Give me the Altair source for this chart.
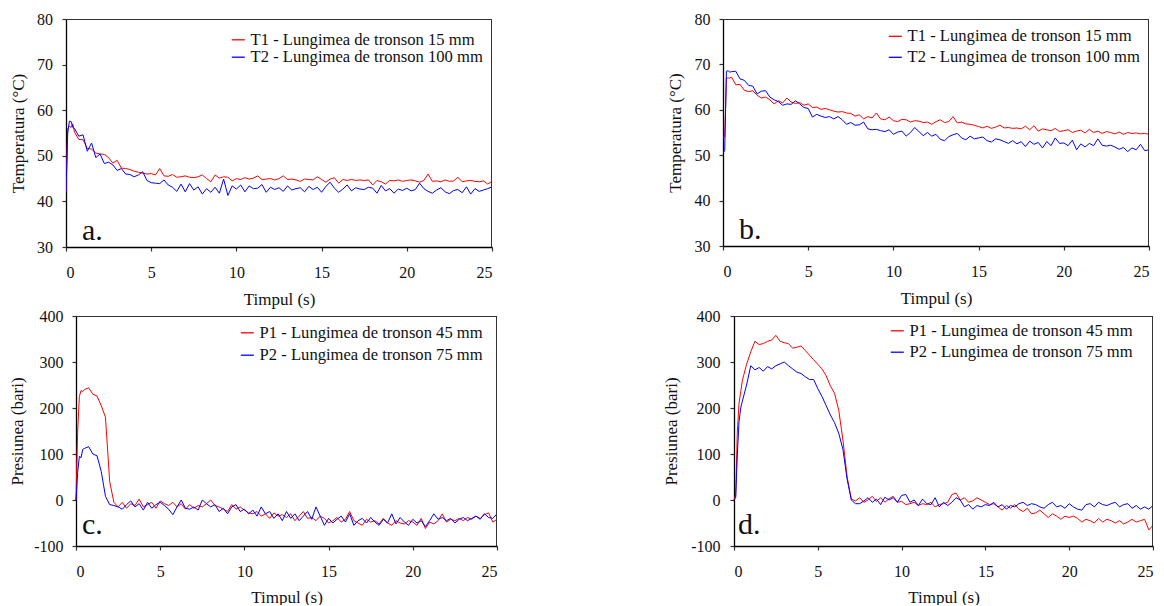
import altair as alt
import pandas as pd

# shared time grid (s)
TIME = [0, 0.1, 0.2, 0.3, 0.4, 0.5,
        0.75, 1.0, 1.25, 1.5, 1.75, 2.0, 2.25, 2.5,
        2.75, 3.0, 3.25, 3.5, 3.75, 4.0, 4.25, 4.5,
        4.75, 5.0, 5.25, 5.5, 5.75, 6.0, 6.25, 6.5,
        6.75, 7.0, 7.25, 7.5, 7.75, 8.0, 8.25, 8.5,
        8.75, 9.0, 9.25, 9.5, 9.75, 10.0, 10.25, 10.5,
        10.75, 11.0, 11.25, 11.5, 11.75, 12.0, 12.25, 12.5,
        12.75, 13.0, 13.25, 13.5, 13.75, 14.0, 14.25, 14.5,
        14.75, 15.0, 15.25, 15.5, 15.75, 16.0, 16.25, 16.5,
        16.75, 17.0, 17.25, 17.5, 17.75, 18.0, 18.25, 18.5,
        18.75, 19.0, 19.25, 19.5, 19.75, 20.0, 20.25, 20.5,
        20.75, 21.0, 21.25, 21.5, 21.75, 22.0, 22.25, 22.5,
        22.75, 23.0, 23.25, 23.5, 23.75, 24.0, 24.25, 24.5,
        24.75, 25.0]

T1_A = [42, 56, 56.5, 56.2, 57, 55.2,
        53.6, 53.5, 51.6, 51.5, 50.6, 50.4, 50.3, 49.6,
        48.4, 49.0, 47.3, 47.2, 47.0, 46.6, 46.4, 46.2,
        46.0, 46.1, 45.8, 47.2, 45.6, 45.5, 45.9, 45.3,
        45.4, 45.6, 45.3, 45.2, 45.4, 45.8, 45.0, 44.3,
        45.8, 45.1, 45.4, 45.3, 44.5, 45.0, 44.8, 45.2,
        44.9, 45.1, 45.6, 44.8, 44.9, 45.0, 44.7, 45.0,
        45.6, 44.8, 44.9, 44.7, 44.4, 44.9, 44.8, 44.7,
        45.4, 44.8, 44.2, 44.9, 45.2, 44.0, 44.8, 44.6,
        44.8, 44.6, 44.7, 44.6, 44.7, 43.6, 44.6, 44.3,
        43.8, 44.6, 44.5, 44.7, 44.4, 44.6, 44.7, 44.5,
        44.2, 44.6, 46.0, 44.4, 44.5, 44.3, 44.7, 44.4,
        44.5, 45.3, 44.3, 44.5, 44.6, 44.4, 44.3, 44.5,
        43.8, 44.4]
T2_A = [42, 55, 57.6, 57.5, 56.2, 56.0,
        54.3, 54.6, 51.0, 52.8, 49.6, 50.4, 48.3, 48.6,
        48.0, 46.8, 47.2, 46.0, 45.9, 45.4, 45.8, 46.5,
        44.6, 44.1, 44.0, 43.9, 44.7, 43.6, 43.1, 42.2,
        43.8, 42.1, 43.9, 42.5, 43.2, 41.6, 42.8, 42.0,
        43.1, 41.8, 44.9, 41.3, 43.4, 42.7, 43.6, 42.1,
        43.4, 42.8, 42.9, 43.7, 42.0, 43.1, 42.6, 43.0,
        42.2, 43.4, 42.5, 42.8, 43.0, 42.1, 43.3, 42.6,
        43.1, 42.0, 43.3, 44.2, 42.9, 42.0, 42.7, 43.6,
        42.3, 43.0, 42.7, 42.6, 43.1, 42.9, 41.8, 43.5,
        42.3, 42.8, 41.8, 42.7, 42.4, 42.9, 42.3, 42.6,
        44.0, 42.8, 42.2, 41.8, 42.5, 43.0, 42.1, 41.7,
        42.4, 42.6, 41.9, 43.2, 41.6, 42.8, 42.2, 42.5,
        42.8, 43.2]

T1_B = [54, 54, 67, 67, 67, 67.2,
        65.5, 65.6, 64.3, 64.0, 64.2, 63.2, 62.6, 62.8,
        62.2, 61.3, 62.0, 61.5, 62.6, 61.7, 61.4, 61.6,
        61.0, 61.3, 60.5, 60.6, 60.1, 60.3, 60.0, 59.7,
        59.5, 59.6, 59.3, 59.2, 58.6, 58.9, 58.0, 58.5,
        58.2, 59.3, 58.0, 57.8, 58.4, 57.6, 57.4, 57.9,
        57.8, 57.3, 57.6, 57.5, 57.2, 57.3, 56.8, 57.4,
        57.8, 57.2, 57.4, 58.5, 57.1, 57.3, 56.9, 56.8,
        56.6, 56.3, 56.0, 56.4, 55.9, 56.2, 56.6, 56.0,
        56.1, 55.9, 56.0, 55.8, 56.4, 55.6, 56.5, 55.3,
        55.8, 55.6, 55.4, 55.9, 55.2, 55.4, 55.6, 55.0,
        55.3, 55.5, 54.9, 55.7, 55.0, 55.3, 54.8, 55.2,
        55.0, 54.7, 55.1, 54.6, 55.0, 54.8, 54.9, 54.7,
        54.8, 54.6]
T2_B = [50.5, 51, 68.5, 68.6, 68.3, 68.4,
        68.5, 66.8, 66.5, 65.4, 65.2, 63.5, 64.1, 64.2,
        62.8, 62.2, 61.8, 61.0, 61.3, 61.2, 62.0, 61.3,
        60.5, 60.3, 58.4, 59.0, 58.6, 58.3, 58.5, 58.0,
        58.5, 57.8, 56.8, 57.2, 56.6, 56.7, 57.3, 55.8,
        55.6, 55.7, 55.4, 55.2, 55.6, 54.6, 55.1, 55.3,
        54.2, 55.0, 56.1, 55.2, 54.3, 55.0, 54.2, 54.6,
        53.5, 53.2, 54.1, 54.5, 54.8, 53.8, 53.4, 54.2,
        53.6, 53.8, 54.0, 53.2, 52.9, 53.6, 53.4, 53.0,
        52.6, 53.2, 52.5, 53.0, 51.9, 53.1, 52.4, 52.8,
        51.6, 53.0, 52.1, 53.8, 52.6, 52.7, 52.1, 53.3,
        51.2, 52.5, 51.8, 52.6, 52.1, 53.6, 52.2, 52.0,
        52.2, 51.8, 51.3, 51.7, 50.8, 51.6, 51.2, 52.4,
        51.0, 51.2]

P1_C = [0, 150, 225, 238, 236, 240,
        244, 230, 226, 205, 180, 40, -5, -15,
        -5, -18, -8, -12, 2, -15, -10, -5,
        -18, -2, -8, -12, -5, -15, -8, -20,
        -10, -18, -12, -15, -8, 0, -12, -15,
        -20, -25, -10, -20, -15, -22, -28, -30,
        -25, -35, -30, -40, -28, -35, -32, -38,
        -30, -45, -35, -25, -40, -38, -45, -35,
        -40, -50, -45, -38, -48, -42, -25, -45,
        -50, -55, -42, -48, -45, -52, -40, -50,
        -55, -45, -50, -52, -45, -48, -55, -40,
        -62, -48, -52, -45, -30, -48, -42, -45,
        -40, -45, -38, -42, -35, -40, -32, -28,
        -48, -42]
P2_C = [0, 60, 95, 92, 110, 112,
        116, 100, 96, 62, 8, -10, -12, -15,
        -20, -10, -2, -15, -8, -22, -5, -18,
        -10, -5, -12, -20, -32, -15, 0, -18,
        -20, -15, -22, 0, -8, -15, -10, -25,
        -18, -30, -15, -10, -25, -20, -30, -22,
        -35, -15, -30, -25, -40, -30, -45, -25,
        -40, -30, -45, -35, -25, -42, -15, -35,
        -55, -40, -50, -42, -35, -48, -30, -55,
        -45, -40, -50, -38, -48, -55, -42, -50,
        -30, -52, -38, -48, -55, -42, -50, -45,
        -58, -45, -30, -42, -38, -45, -40, -50,
        -42, -38, -45, -40, -35, -42, -30, -38,
        -40, -30]

P1_D = [0, 10, 150, 210, 235, 260,
        295, 322, 345, 338, 340, 345, 348, 358,
        345, 342, 340, 330, 332, 335, 325, 315,
        305, 295, 285, 270, 248, 232, 195, 130,
        50, 2, -2, 5, -5, 0, 8, -3,
        5, -5, 3, 8, -5, -3, -10, -8,
        -5, -12, -8, -10, -5, -15, -10, -8,
        -5, 12, 15, 0, 5, -5, -2, 5,
        0, -5, -10, -8, -15, -22, -12, -18,
        -10, -20, -25, -18, -30, -28, -22, -30,
        -38, -30, -35, -42, -35, -38, -35, -40,
        -48, -42, -45, -50, -40, -48, -42, -45,
        -50, -45, -52, -48, -42, -48, -45, -42,
        -65, -55]
P2_D = [0, 5, 100, 170, 200, 215,
        250, 292, 283, 288, 280, 290, 285, 292,
        296, 300, 292, 285, 278, 275, 268, 262,
        262, 242, 225, 205, 185, 168, 145, 110,
        45, 0, -8, -8, -2, 5, -5, 2,
        -10, 6, 0, 5, -5, 10, 12, -5,
        0, -12, 2, -8, -10, 5, -15, -5,
        -12, -5, 5, 0, -15, -10, -20, -12,
        -15, -10, -12, -5, -15, -10, -20, -12,
        -15, -8, -5, -12, -8, -10, -15, -18,
        -10, -5, -15, -12, -18, -8, -15, -20,
        -22, -10, -8, -15, -5, -10, -12, -8,
        -5, -15, -10, -8, -18, -12, -20, -15,
        -20, -12]

NAMES_T = ["T1 - Lungimea de tronson 15 mm", "T2 - Lungimea de tronson 100 mm"]
NAMES_P = ["P1 - Lungimea de tronson 45 mm", "P2 - Lungimea de tronson 75 mm"]
X_TICKS = [0, 5, 10, 15, 20, 25]
T_TICKS = [30, 40, 50, 60, 70, 80]
P_TICKS = [-100, 0, 100, 200, 300, 400]

FONT = "Liberation Serif"
FRAME = "#333"


def panel(s1, s2, names, yticks, ytitle, letter, w, h, shift, legx, legy, rowpad,
          ldx, ldy, ylabpad, ytitlepad, xlabpad, xtitlepad):
    W = w + shift
    df = pd.DataFrame({
        "t": TIME + TIME,
        "v": s1 + s2,
        "s": [names[0]] * len(TIME) + [names[1]] * len(TIME),
    })
    lines = alt.Chart(df).mark_line(strokeWidth=1, clip=True).encode(
        x=alt.X("t:Q", scale=alt.Scale(domain=[0, 25], nice=False, zero=False,
                                        range=[shift, W]),
                axis=alt.Axis(values=X_TICKS, title="Timpul (s)", labelPadding=xlabpad,
                              titlePadding=xtitlepad, labelExpr="datum.value + ''",
                              grid=False)),
        y=alt.Y("v:Q", scale=alt.Scale(domain=[yticks[0], yticks[-1]], nice=False, zero=False),
                axis=alt.Axis(values=yticks, title=ytitle, labelPadding=ylabpad,
                              titlePadding=ytitlepad, labelExpr="datum.value + ''",
                              grid=False, offset=-shift)),
        color=alt.Color("s:N", scale=alt.Scale(domain=names, range=["#ff0000", "#0000ff"]),
                        legend=alt.Legend(title=None, orient="none", legendX=legx, legendY=legy,
                                          symbolType="stroke", symbolSize=170,
                                          symbolStrokeWidth=1.3, labelFont=FONT,
                                          labelFontSize=16.6, labelColor="#111",
                                          labelOffset=4, rowPadding=rowpad,
                                          labelLimit=400)),
        detail="s:N",
    )
    one = pd.DataFrame({"lab": [letter]})
    lab = alt.Chart(one).mark_text(
        font=FONT, fontSize=30, align="left", baseline="alphabetic", color="#111"
    ).encode(text="lab:N", x=alt.value(ldx), y=alt.value(h - ldy))
    top_rule = alt.Chart(one).mark_rule(color=FRAME, strokeWidth=1).encode(
        x=alt.value(shift), x2=alt.value(W), y=alt.value(0.5))
    right_rule = alt.Chart(one).mark_rule(color=FRAME, strokeWidth=1).encode(
        x=alt.value(W - 0.5), y=alt.value(0), y2=alt.value(h))
    return alt.layer(lines, lab, top_rule, right_rule).properties(width=W, height=h)


a = panel(T1_A, T2_A, NAMES_T, T_TICKS, "Temperatura (°C)", "a.", 426, 228, 0,
          164, 12.5, 0.4, 16, 7, 9.5, 9, 13, 11)
b = panel(T1_B, T2_B, NAMES_T, T_TICKS, "Temperatura (°C)", "b.", 426, 227, 0,
          164, 9, 4, 16, 7, 9, 10, 13, 11)
c = panel(P1_C, P2_C, NAMES_P, P_TICKS, "Presiunea (bari)", "c.", 421, 230, 10,
          173, 8.5, 5.4, 16, 12, 9, 7, 13, 10)
d = panel(P1_D, P2_D, NAMES_P, P_TICKS, "Presiunea (bari)", "d.", 419, 230, 11,
          166, 6.5, 4.4, 15, 12, 10, 10, 13, 10)

chart = alt.concat(a, b, c, d, columns=2, align="each", bounds="full",
                   spacing={"row": 1, "column": 164}).resolve_scale(
    color="independent", x="independent", y="independent"
).resolve_legend(color="independent").properties(
    padding={"left": 0, "top": 3, "right": 0, "bottom": 0}
).configure_view(
    strokeWidth=0
).configure_axis(
    labelFont=FONT, titleFont=FONT, labelFontSize=16, titleFontSize=17,
    titleFontWeight="normal", labelColor="#111", titleColor="#111",
    domainColor="#000", domainWidth=1.3, tickColor="#333", tickSize=4, tickWidth=1.2
)

chart.save("out.html", embed_options={"renderer": "svg", "actions": False})
